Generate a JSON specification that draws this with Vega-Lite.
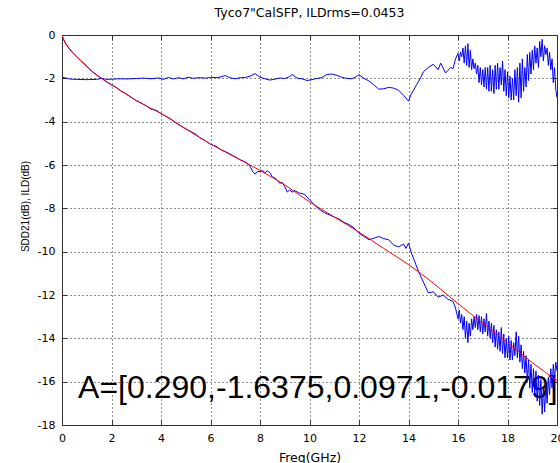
{
  "$schema": "https://vega.github.io/schema/vega-lite/v6.json",
  "width": 495,
  "height": 390,
  "autosize": {"type": "none"},
  "padding": {"left": 62, "top": 35, "right": 3, "bottom": 38},
  "background": "white",
  "config": {
    "view": {"stroke": "#333333", "strokeWidth": 1},
    "font": "DejaVu Sans",
    "axis": {
      "domainColor": "#333333",
      "tickColor": "#333333",
      "tickSize": -5,
      "labelPadding": 12,
      "labelFont": "DejaVu Sans",
      "labelFontSize": 11,
      "labelColor": "#000000",
      "labelFlush": false,
      "labelOverlap": false,
      "titleFont": "DejaVu Sans",
      "titleFontWeight": "normal",
      "titleColor": "#000000",
      "gridColor": "#222222",
      "gridDash": [1, 3],
      "gridOpacity": 1,
      "gridWidth": 1
    }
  },
  "title": {
    "text": "Tyco7\"CalSFP, ILDrms=0.0453",
    "font": "DejaVu Sans",
    "fontSize": 12.5,
    "fontWeight": "normal",
    "color": "#000000",
    "offset": 10
  },
  "datasets": {
    "note": [{"label": "A=[0.290,-1.6375,0.0971,-0.0179]"}],
    "fit": [
      {"f":0,"v":0},{"f":0.1,"v":-0.28},{"f":0.2,"v":-0.47},{"f":0.4,"v":-0.76},{"f":0.6,"v":-1.0},{"f":0.8,"v":-1.24},{"f":1.0,"v":-1.45},{"f":1.2,"v":-1.66},{"f":1.6,"v":-2.0},{"f":2.0,"v":-2.3},{"f":2.5,"v":-2.66},{"f":3.0,"v":-3.02},{"f":3.5,"v":-3.33},{"f":4.0,"v":-3.62},{"f":5.0,"v":-4.33},{"f":6.0,"v":-5.03},{"f":7.0,"v":-5.64},{"f":8.0,"v":-6.25},{"f":9.0,"v":-6.92},{"f":10,"v":-7.7},{"f":11,"v":-8.4},{"f":12,"v":-9.1},{"f":13,"v":-9.85},{"f":14,"v":-10.6},{"f":15,"v":-11.45},{"f":16,"v":-12.4},{"f":17,"v":-13.3},{"f":18,"v":-14.2},{"f":19,"v":-15.12},{"f":20,"v":-15.95}
    ],
    "sdd": [
      {"f":0.0,"v":-0.05},{"f":0.1,"v":-0.3},{"f":0.2,"v":-0.5},{"f":0.4,"v":-0.78},{"f":0.6,"v":-1.02},{"f":0.8,"v":-1.22},{"f":1.0,"v":-1.44},{"f":1.2,"v":-1.68},{"f":1.4,"v":-1.85},{"f":1.6,"v":-2.0},{"f":1.8,"v":-2.17},{"f":2.0,"v":-2.3},{"f":2.2,"v":-2.42},{"f":2.4,"v":-2.6},{"f":2.6,"v":-2.72},{"f":2.8,"v":-2.88},{"f":3.0,"v":-3.03},{"f":3.2,"v":-3.14},{"f":3.4,"v":-3.27},{"f":3.6,"v":-3.42},{"f":3.8,"v":-3.47},{"f":4.0,"v":-3.63},{"f":4.2,"v":-3.75},{"f":4.4,"v":-3.88},{"f":4.6,"v":-4.06},{"f":4.8,"v":-4.2},{"f":5.0,"v":-4.34},{"f":5.2,"v":-4.45},{"f":5.4,"v":-4.58},{"f":5.6,"v":-4.77},{"f":5.8,"v":-4.88},{"f":6.0,"v":-5.05},{"f":6.2,"v":-5.12},{"f":6.4,"v":-5.28},{"f":6.6,"v":-5.38},{"f":6.8,"v":-5.5},{"f":7.0,"v":-5.62},{"f":7.2,"v":-5.76},{"f":7.4,"v":-5.86},{"f":7.6,"v":-6.05},{"f":7.7,"v":-6.3},{"f":7.8,"v":-6.42},{"f":7.9,"v":-6.3},{"f":8.0,"v":-6.3},{"f":8.1,"v":-6.25},{"f":8.2,"v":-6.35},{"f":8.3,"v":-6.28},{"f":8.4,"v":-6.35},{"f":8.5,"v":-6.55},{"f":8.6,"v":-6.6},{"f":8.7,"v":-6.7},{"f":8.8,"v":-6.85},{"f":8.9,"v":-6.8},{"f":9.0,"v":-7.0},{"f":9.1,"v":-7.25},{"f":9.2,"v":-7.15},{"f":9.3,"v":-7.25},{"f":9.4,"v":-7.18},{"f":9.6,"v":-7.3},{"f":9.8,"v":-7.35},{"f":10.0,"v":-7.6},{"f":10.2,"v":-7.85},{"f":10.4,"v":-8.05},{"f":10.6,"v":-8.2},{"f":10.8,"v":-8.3},{"f":11.0,"v":-8.4},{"f":11.2,"v":-8.5},{"f":11.4,"v":-8.65},{"f":11.6,"v":-8.75},{"f":11.8,"v":-8.9},{"f":12.0,"v":-9.15},{"f":12.2,"v":-9.3},{"f":12.4,"v":-9.45},{"f":12.6,"v":-9.38},{"f":12.8,"v":-9.3},{"f":13.0,"v":-9.4},{"f":13.2,"v":-9.45},{"f":13.4,"v":-9.7},{"f":13.6,"v":-9.78},{"f":13.8,"v":-9.65},{"f":13.9,"v":-9.85},{"f":14.0,"v":-9.6},{"f":14.1,"v":-10.0},{"f":14.2,"v":-10.3},{"f":14.4,"v":-10.9},{"f":14.6,"v":-11.4},{"f":14.8,"v":-11.9},{"f":15.0,"v":-11.85},{"f":15.2,"v":-12.1},{"f":15.4,"v":-12.0},{"f":15.6,"v":-12.2},{"f":15.8,"v":-12.3},{"f":15.9,"v":-12.6},{"f":16.0,"v":-13.1},{"f":16.05,"v":-12.7},{"f":16.1,"v":-13.3},{"f":16.15,"v":-12.9},{"f":16.2,"v":-13.6},{"f":16.25,"v":-13.0},{"f":16.3,"v":-14.0},{"f":16.35,"v":-13.2},{"f":16.4,"v":-14.2},{"f":16.45,"v":-13.3},{"f":16.5,"v":-13.9},{"f":16.55,"v":-13.1},{"f":16.6,"v":-13.6},{"f":16.65,"v":-13.0},{"f":16.7,"v":-13.5},{"f":16.75,"v":-12.9},{"f":16.8,"v":-13.6},{"f":16.85,"v":-12.95},{"f":16.9,"v":-13.7},{"f":16.95,"v":-13.0},{"f":17.0,"v":-13.8},{"f":17.05,"v":-13.1},{"f":17.1,"v":-13.7},{"f":17.15,"v":-12.85},{"f":17.2,"v":-13.9},{"f":17.25,"v":-13.2},{"f":17.3,"v":-14.0},{"f":17.35,"v":-13.3},{"f":17.4,"v":-14.2},{"f":17.45,"v":-13.4},{"f":17.5,"v":-14.4},{"f":17.55,"v":-13.6},{"f":17.6,"v":-14.5},{"f":17.65,"v":-13.7},{"f":17.7,"v":-14.6},{"f":17.75,"v":-13.5},{"f":17.8,"v":-14.7},{"f":17.85,"v":-13.8},{"f":17.9,"v":-14.9},{"f":17.95,"v":-14.0},{"f":18.0,"v":-14.9},{"f":18.05,"v":-13.9},{"f":18.1,"v":-15.0},{"f":18.15,"v":-14.1},{"f":18.2,"v":-15.0},{"f":18.25,"v":-14.2},{"f":18.3,"v":-14.8},{"f":18.35,"v":-13.7},{"f":18.4,"v":-14.9},{"f":18.45,"v":-13.9},{"f":18.5,"v":-15.1},{"f":18.55,"v":-14.3},{"f":18.6,"v":-15.4},{"f":18.65,"v":-14.6},{"f":18.7,"v":-15.6},{"f":18.75,"v":-14.8},{"f":18.8,"v":-16.0},{"f":18.85,"v":-15.0},{"f":18.9,"v":-16.3},{"f":18.95,"v":-15.2},{"f":19.0,"v":-16.5},{"f":19.05,"v":-15.4},{"f":19.1,"v":-16.6},{"f":19.15,"v":-15.5},{"f":19.2,"v":-16.9},{"f":19.25,"v":-15.7},{"f":19.3,"v":-17.1},{"f":19.35,"v":-15.9},{"f":19.4,"v":-17.5},{"f":19.45,"v":-16.2},{"f":19.5,"v":-17.4},{"f":19.55,"v":-16.1},{"f":19.6,"v":-17.0},{"f":19.65,"v":-15.8},{"f":19.7,"v":-16.6},{"f":19.75,"v":-15.4},{"f":19.8,"v":-16.3},{"f":19.85,"v":-15.2},{"f":19.9,"v":-15.9},{"f":19.95,"v":-15.1},{"f":20.0,"v":-15.5}
    ],
    "ild": [
      {"f":0.0,"v":-1.95},{"f":0.1,"v":-1.97},{"f":0.3,"v":-2.03},{"f":0.6,"v":-2.05},{"f":1.0,"v":-2.06},{"f":1.4,"v":-2.05},{"f":1.6,"v":-2.0},{"f":1.8,"v":-2.05},{"f":2.0,"v":-2.04},{"f":2.3,"v":-2.02},{"f":2.6,"v":-2.03},{"f":3.0,"v":-2.01},{"f":3.3,"v":-1.99},{"f":3.6,"v":-2.02},{"f":3.9,"v":-1.98},{"f":4.1,"v":-2.05},{"f":4.3,"v":-1.96},{"f":4.5,"v":-2.03},{"f":4.7,"v":-1.97},{"f":4.9,"v":-2.02},{"f":5.1,"v":-1.95},{"f":5.3,"v":-2.0},{"f":5.5,"v":-1.97},{"f":5.8,"v":-1.99},{"f":6.0,"v":-1.96},{"f":6.3,"v":-1.97},{"f":6.6,"v":-1.87},{"f":6.8,"v":-1.98},{"f":7.0,"v":-2.02},{"f":7.2,"v":-1.97},{"f":7.4,"v":-1.96},{"f":7.6,"v":-1.9},{"f":7.8,"v":-1.78},{"f":8.0,"v":-1.95},{"f":8.2,"v":-2.02},{"f":8.4,"v":-2.08},{"f":8.6,"v":-2.04},{"f":8.8,"v":-1.98},{"f":9.0,"v":-2.01},{"f":9.2,"v":-1.92},{"f":9.3,"v":-1.82},{"f":9.5,"v":-1.99},{"f":9.7,"v":-2.02},{"f":9.9,"v":-2.1},{"f":10.1,"v":-2.06},{"f":10.3,"v":-2.0},{"f":10.5,"v":-1.97},{"f":10.7,"v":-1.82},{"f":10.9,"v":-1.8},{"f":11.1,"v":-1.86},{"f":11.3,"v":-1.95},{"f":11.5,"v":-2.0},{"f":11.7,"v":-2.02},{"f":11.9,"v":-1.92},{"f":12.0,"v":-1.83},{"f":12.2,"v":-2.0},{"f":12.4,"v":-2.12},{"f":12.6,"v":-2.3},{"f":12.8,"v":-2.5},{"f":13.0,"v":-2.48},{"f":13.2,"v":-2.42},{"f":13.4,"v":-2.45},{"f":13.6,"v":-2.55},{"f":13.8,"v":-2.78},{"f":14.0,"v":-3.05},{"f":14.1,"v":-2.75},{"f":14.3,"v":-2.35},{"f":14.5,"v":-1.95},{"f":14.6,"v":-1.7},{"f":14.8,"v":-1.5},{"f":15.0,"v":-1.35},{"f":15.2,"v":-1.6},{"f":15.3,"v":-1.3},{"f":15.5,"v":-1.75},{"f":15.7,"v":-1.5},{"f":15.8,"v":-1.55},{"f":15.9,"v":-1.1},{"f":16.0,"v":-0.85},{"f":16.05,"v":-1.2},{"f":16.1,"v":-0.8},{"f":16.15,"v":-1.0},{"f":16.2,"v":-0.6},{"f":16.25,"v":-1.3},{"f":16.3,"v":-0.5},{"f":16.35,"v":-1.4},{"f":16.4,"v":-0.4},{"f":16.45,"v":-1.5},{"f":16.5,"v":-0.7},{"f":16.55,"v":-1.6},{"f":16.6,"v":-1.1},{"f":16.65,"v":-1.55},{"f":16.7,"v":-1.3},{"f":16.75,"v":-1.8},{"f":16.8,"v":-1.4},{"f":16.85,"v":-2.2},{"f":16.9,"v":-1.5},{"f":16.95,"v":-2.3},{"f":17.0,"v":-1.6},{"f":17.05,"v":-2.4},{"f":17.1,"v":-1.5},{"f":17.15,"v":-2.5},{"f":17.2,"v":-1.5},{"f":17.25,"v":-2.6},{"f":17.3,"v":-1.4},{"f":17.35,"v":-2.6},{"f":17.4,"v":-1.6},{"f":17.45,"v":-2.7},{"f":17.5,"v":-1.4},{"f":17.55,"v":-2.5},{"f":17.6,"v":-1.3},{"f":17.65,"v":-2.5},{"f":17.7,"v":-1.5},{"f":17.75,"v":-2.3},{"f":17.8,"v":-1.2},{"f":17.85,"v":-2.6},{"f":17.9,"v":-1.6},{"f":17.95,"v":-2.8},{"f":18.0,"v":-1.7},{"f":18.05,"v":-2.9},{"f":18.1,"v":-1.9},{"f":18.15,"v":-3.0},{"f":18.2,"v":-2.0},{"f":18.25,"v":-3.0},{"f":18.3,"v":-1.6},{"f":18.35,"v":-2.8},{"f":18.4,"v":-1.5},{"f":18.45,"v":-3.1},{"f":18.5,"v":-1.3},{"f":18.55,"v":-2.9},{"f":18.6,"v":-1.1},{"f":18.65,"v":-2.6},{"f":18.7,"v":-1.5},{"f":18.75,"v":-2.4},{"f":18.8,"v":-0.9},{"f":18.85,"v":-2.1},{"f":18.9,"v":-0.8},{"f":18.95,"v":-1.8},{"f":19.0,"v":-0.7},{"f":19.05,"v":-1.6},{"f":19.1,"v":-0.5},{"f":19.15,"v":-1.3},{"f":19.2,"v":-0.6},{"f":19.25,"v":-1.5},{"f":19.3,"v":-0.3},{"f":19.35,"v":-1.0},{"f":19.4,"v":-0.2},{"f":19.45,"v":-1.2},{"f":19.5,"v":-0.5},{"f":19.55,"v":-0.9},{"f":19.6,"v":-0.6},{"f":19.65,"v":-1.4},{"f":19.7,"v":-0.8},{"f":19.75,"v":-1.6},{"f":19.8,"v":-1.1},{"f":19.85,"v":-2.2},{"f":19.9,"v":-1.5},{"f":19.95,"v":-2.5},{"f":20.0,"v":-2.9}
    ]
  },
  "layer": [
    {
      "data": {"name": "note"},
      "mark": {"type": "text", "font": "Liberation Sans", "fontSize": 32, "align": "left", "baseline": "alphabetic", "color": "#000000"},
      "encoding": {
        "text": {"field": "label", "type": "nominal"},
        "x": {"datum": 0.65, "type": "quantitative", "scale": {"domain": [0, 20], "nice": false, "zero": false},
          "axis": {"values": [0,2,4,6,8,10,12,14,16,18,20], "grid": true, "title": "Freq(GHz)", "titleFontSize": 12.5, "titlePadding": 8, "labelExpr": "datum.value + ''"}},
        "y": {"datum": -16.77, "type": "quantitative", "scale": {"domain": [-18, 0], "nice": false, "zero": false},
          "axis": {"values": [-18,-16,-14,-12,-10,-8,-6,-4,-2,0], "grid": true, "title": "SDD21(dB), ILD(dB)", "titleFont": "Liberation Sans", "titleFontSize": 10, "titleX": -34, "titleY": 171, "titleAlign": "center", "titleBaseline": "alphabetic", "titleAngle": 270, "labelExpr": "datum.value + ''"}}
      }
    },
    {
      "data": {"name": "sdd"},
      "mark": {"type": "line", "color": "#0000ff", "strokeWidth": 1, "clip": true},
      "encoding": {
        "x": {"field": "f", "type": "quantitative", "axis": null},
        "y": {"field": "v", "type": "quantitative", "axis": null}
      }
    },
    {
      "data": {"name": "ild"},
      "mark": {"type": "line", "color": "#0000ff", "strokeWidth": 1, "clip": true},
      "encoding": {
        "x": {"field": "f", "type": "quantitative", "axis": null},
        "y": {"field": "v", "type": "quantitative", "axis": null}
      }
    },
    {
      "data": {"name": "fit"},
      "mark": {"type": "line", "color": "#ff0000", "strokeWidth": 1, "clip": true, "interpolate": "monotone"},
      "encoding": {
        "x": {"field": "f", "type": "quantitative", "axis": null},
        "y": {"field": "v", "type": "quantitative", "axis": null}
      }
    },
    {
      "data": {"name": "fit"},
      "mark": {"type": "point", "opacity": 0},
      "encoding": {
        "x": {"field": "f", "type": "quantitative",
          "axis": {"orient": "top", "values": [0,2,4,6,8,10,12,14,16,18,20], "labels": false, "grid": false, "domain": false, "title": null}},
        "y": {"field": "v", "type": "quantitative",
          "axis": {"orient": "right", "values": [-18,-16,-14,-12,-10,-8,-6,-4,-2,0], "labels": false, "grid": false, "domain": false, "title": null}}
      }
    }
  ],
  "resolve": {"axis": {"x": "independent", "y": "independent"}}
}
